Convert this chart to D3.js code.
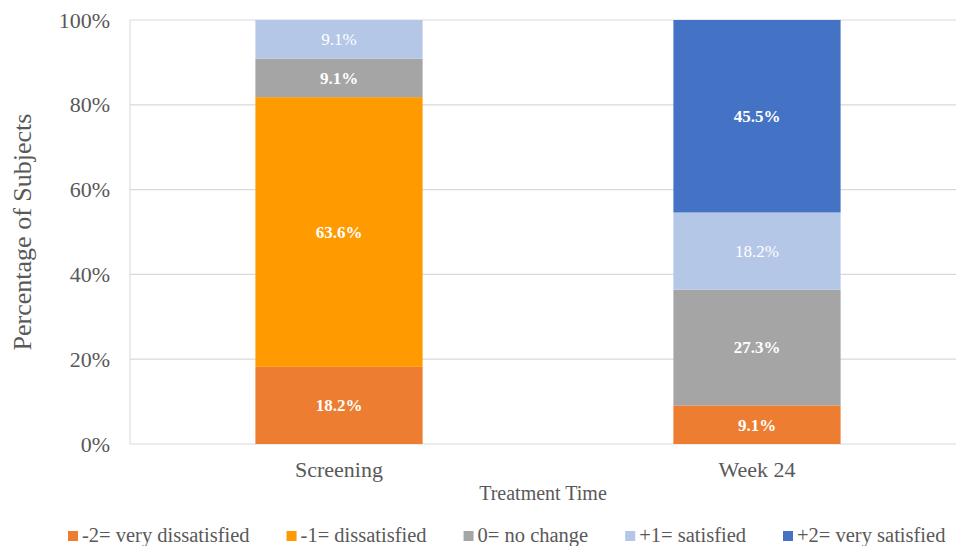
<!DOCTYPE html>
<html>
<head>
<meta charset="utf-8">
<script src="https://cdn.jsdelivr.net/npm/d3@7"></script>
<style>
  html, body { margin: 0; padding: 0; background: #fff; }
  svg { display: block; }
</style>
</head>
<body>
<svg id="chart" width="956" height="546"></svg>
<script>
// Satisfaction ratings by treatment time (percent of subjects)
const timepoints = ["Screening", "Week 24"];
const levels = ["-2= very dissatisfied", "-1= dissatisfied", "0= no change", "+1= satisfied", "+2= very satisfied"];
const veryDissatisfied = [18.2, 9.1];
const dissatisfied     = [63.6, 0];
const noChange         = [9.1, 27.3];
const satisfied        = [9.1, 18.2];
const verySatisfied    = [0, 45.5];
const yTicks = [0, 20, 40, 60, 80, 100];

const seriesValues = [veryDissatisfied, dissatisfied, noChange, satisfied, verySatisfied];
const colors = ["#ED7D31", "#FF9A00", "#A5A5A5", "#B4C7E7", "#4472C4"];
const labelWeights = ["bold", "bold", "bold", "normal", "bold"];
const FONT = "'Liberation Serif', 'Times New Roman', serif";
const INK = "#595959";

const rows = timepoints.map((t, i) => {
  const r = { time: t };
  levels.forEach((l, k) => { r[l] = seriesValues[k][i]; });
  return r;
});

const svg = d3.select("#chart");
const plot = { left: 130, right: 966, top: 20, bottom: 444 };

const x = d3.scaleBand()
  .domain(timepoints)
  .range([plot.left, plot.right])
  .paddingInner(0.6)
  .paddingOuter(0.3);

const y = d3.scaleLinear()
  .domain([0, 100])
  .range([plot.bottom, plot.top]);

// Horizontal gridlines
svg.append("g")
  .selectAll("line")
  .data(yTicks)
  .join("line")
  .attr("x1", plot.left).attr("x2", plot.right)
  .attr("y1", d => y(d)).attr("y2", d => y(d))
  .attr("stroke", "#d9d9d9").attr("stroke-width", 1.2);

// Plot frame (left edge)
svg.append("line")
  .attr("x1", plot.left).attr("x2", plot.left)
  .attr("y1", plot.top).attr("y2", plot.bottom)
  .attr("stroke", "#dedede").attr("stroke-width", 1.2);

// Y axis tick labels
const yAxis = d3.axisLeft(y).tickValues(yTicks).tickFormat(d => d + "%").tickSize(0).tickPadding(20);
const gy = svg.append("g").attr("transform", `translate(${plot.left},0)`).call(yAxis);
gy.select(".domain").remove();
gy.selectAll("text")
  .style("font-family", FONT)
  .style("font-size", "22px")
  .attr("fill", INK);

// X axis category labels
const xAxis = d3.axisBottom(x).tickSize(0).tickPadding(17);
const gx = svg.append("g").attr("transform", `translate(0,${plot.bottom})`).call(xAxis);
gx.select(".domain").remove();
gx.selectAll("text")
  .style("font-family", FONT)
  .style("font-size", "22px")
  .attr("fill", INK);

// Stacked bars
const stacked = d3.stack().keys(levels)(rows);
const layers = svg.append("g")
  .selectAll("g")
  .data(stacked)
  .join("g")
  .attr("fill", (d, i) => colors[i]);

layers.selectAll("rect")
  .data(d => d.filter(s => s[1] - s[0] > 0))
  .join("rect")
  .attr("x", d => x(d.data.time))
  .attr("width", x.bandwidth())
  .attr("y", d => y(Math.min(100, d[1])))
  .attr("height", d => y(d[0]) - y(Math.min(100, d[1])));

// Value labels inside segments
layers.each(function (layer, i) {
  d3.select(this).selectAll("text")
    .data(layer.filter(s => s[1] - s[0] > 0))
    .join("text")
    .attr("x", d => x(d.data.time) + x.bandwidth() / 2)
    .attr("y", d => (y(d[0]) + y(Math.min(100, d[1]))) / 2)
    .attr("dy", "0.35em")
    .attr("text-anchor", "middle")
    .style("font-family", FONT)
    .style("font-size", "17px")
    .style("font-weight", labelWeights[i])
    .attr("fill", "#fff")
    .text(d => (d[1] - d[0]).toFixed(1) + "%");
});

// Axis titles
svg.append("text")
  .attr("transform", `translate(31,${(plot.top + plot.bottom) / 2}) rotate(-90)`)
  .attr("text-anchor", "middle")
  .style("font-family", FONT)
  .style("font-size", "26px")
  .attr("fill", INK)
  .text("Percentage of Subjects");

svg.append("text")
  .attr("x", 543)
  .attr("y", 500)
  .attr("text-anchor", "middle")
  .style("font-family", FONT)
  .style("font-size", "20px")
  .attr("fill", INK)
  .text("Treatment Time");

// Legend
const legend = svg.append("g");
const items = legend.selectAll("g")
  .data(levels)
  .join("g");
items.append("rect")
  .attr("width", 10).attr("height", 10)
  .attr("y", -11)
  .attr("fill", (d, i) => colors[i]);
items.append("text")
  .attr("x", 14)
  .style("font-family", FONT)
  .style("font-size", "20.5px")
  .attr("fill", INK)
  .text(d => d);

const gap = 37;
let cursor = 0;
items.each(function () {
  const w = this.getBBox().width;
  d3.select(this).attr("transform", `translate(${cursor},0)`);
  cursor += w + gap;
});
legend.attr("transform", "translate(68,542)");
</script>
</body>
</html>
